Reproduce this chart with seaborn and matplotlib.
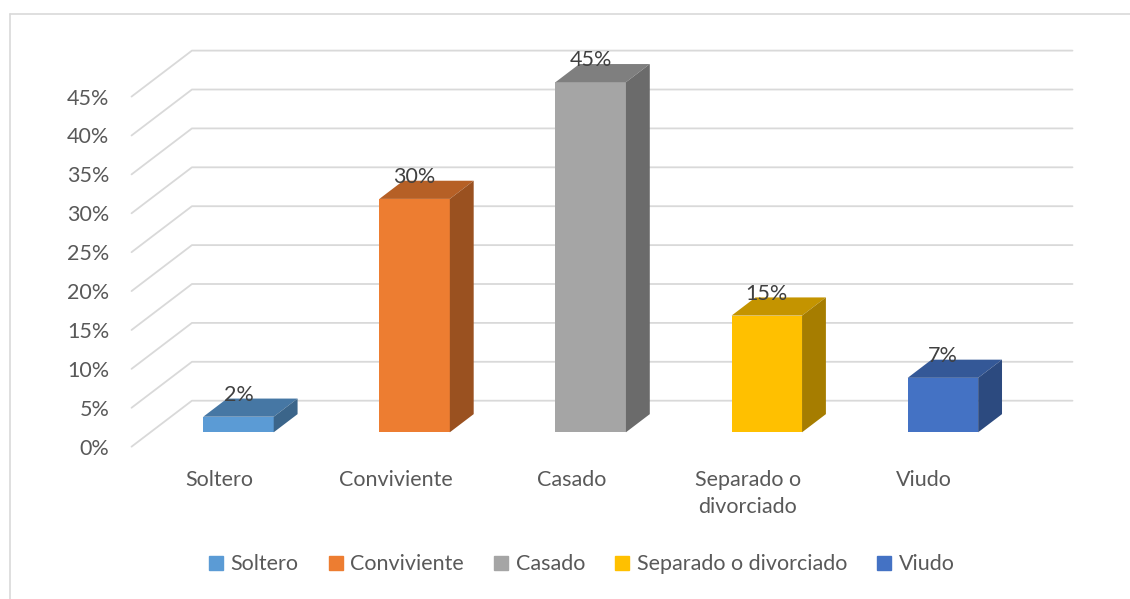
import numpy as np
import pandas as pd
import seaborn as sns
import matplotlib.pyplot as plt
from matplotlib.patches import Polygon
from matplotlib.lines import Line2D
from matplotlib.colors import to_rgb

# data
categorias = ['Soltero', 'Conviviente', 'Casado', 'Separado o divorciado', 'Viudo']
etiquetas_x = ['Soltero', 'Conviviente', 'Casado', 'Separado o\ndivorciado', 'Viudo']
porcentajes = [2, 30, 45, 15, 7]
colores = ['#5B9BD5', '#ED7D31', '#A5A5A5', '#FFC000', '#4472C4']
ticks_y = [0, 5, 10, 15, 20, 25, 30, 35, 40, 45]

df = pd.DataFrame({'cat': categorias, 'pct': porcentajes})

sns.set_style('white')
plt.rcParams['font.family'] = ['Lato', 'DejaVu Sans']
gris_txt = '#595959'
fs = 15.5

fig = plt.figure(figsize=(11.3, 5.99), dpi=100)
ax = fig.add_axes([0.1164, 0.2543, 0.8327, 0.6612])

# oblique depth of the "3d" box (front -> back wall)
dx, dy = 0.343, 5.91
d0, d1 = 0.313, 0.708   # bar front and back depth

sns.barplot(data=df, x='cat', y='pct', hue='cat', palette=colores,
            legend=False, width=0.40, saturation=1, ax=ax, zorder=3)

# gridlines: floor diagonal + back wall
for v in ticks_y:
    ax.plot([-0.5, -0.5 + dx, 4.5 + dx], [v, v + dy, v + dy],
            color='#d9d9d9', lw=1.3, zorder=1, clip_on=False)

for p, val, c in zip(ax.patches, porcentajes, colores):
    x0 = p.get_x() + d0 * dx
    w = p.get_width()
    y0 = d0 * dy
    p.set_x(x0)
    p.set_y(y0)
    p.set_height(val)
    p.set_edgecolor('none')
    rgb = np.array(to_rgb(c))
    ddx, ddy = (d1 - d0) * dx, (d1 - d0) * dy
    top = Polygon([(x0, y0 + val), (x0 + w, y0 + val),
                   (x0 + w + ddx, y0 + val + ddy), (x0 + ddx, y0 + val + ddy)],
                  closed=True, facecolor=rgb * 0.77, edgecolor='none', zorder=3)
    side = Polygon([(x0 + w, y0), (x0 + w + ddx, y0 + ddy),
                    (x0 + w + ddx, y0 + val + ddy), (x0 + w, y0 + val)],
                   closed=True, facecolor=rgb * 0.65, edgecolor='none', zorder=3)
    ax.add_patch(top)
    ax.add_patch(side)
    ax.text(x0 + w / 2, y0 + val + ddy - 0.3, f'{val}%', ha='center', va='baseline',
            fontsize=fs, color='#404040', zorder=5)

ax.set_xlim(-0.5, 4.5 + dx)
ax.set_ylim(0, 45 + dy)
ax.set_yticks(ticks_y)
ax.set_yticklabels([f'{t}%' for t in ticks_y])
ax.set_xticks(range(len(etiquetas_x)))
ax.set_xticklabels(etiquetas_x, linespacing=1.4)
ax.tick_params(axis='y', length=0, pad=16, labelsize=fs, labelcolor=gris_txt)
ax.tick_params(axis='x', length=0, pad=17, labelsize=fs, labelcolor=gris_txt)
ax.set_xlabel('')
ax.set_ylabel('')
sns.despine(ax=ax, left=True, bottom=True)

# legend
handles = [plt.Rectangle((0, 0), 1, 1, color=c) for c in colores]
fig.legend(handles, categorias, loc='center', bbox_to_anchor=(0.515, 0.058),
           ncol=5, frameon=False, fontsize=fs, labelcolor=gris_txt,
           handlelength=0.65, handleheight=0.65, handletextpad=0.35,
           columnspacing=1.4)

# chart area border (left and top visible)
fig.add_artist(Line2D([10 / 1130, 10 / 1130], [0, 1 - 14.3 / 599],
                      color='#d9d9d9', lw=1.2))
fig.add_artist(Line2D([10 / 1130, 1], [1 - 14.3 / 599, 1 - 14.3 / 599],
                      color='#d9d9d9', lw=1.2))

fig.savefig('out.png', dpi=100, facecolor='white')
